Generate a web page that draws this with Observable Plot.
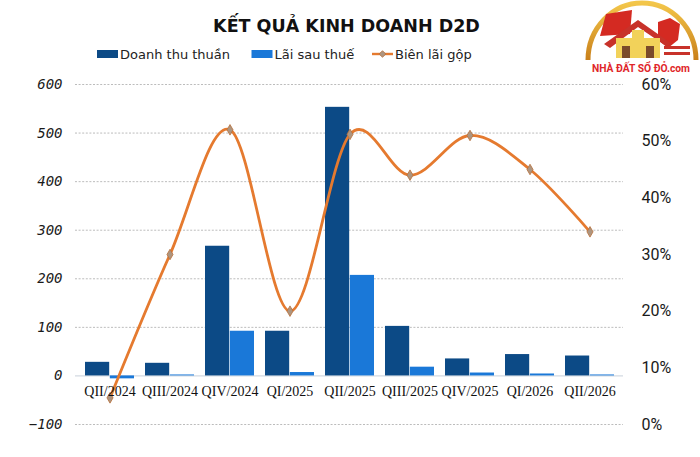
<!DOCTYPE html>
<html>
<head>
<meta charset="utf-8">
<script src="https://cdn.jsdelivr.net/npm/d3@7"></script>
<script src="https://cdn.jsdelivr.net/npm/@observablehq/plot@0.6"></script>
<style>
  body { margin: 0; background: #fff; }
  #wrap { position: relative; width: 700px; height: 457px; overflow: hidden; background: #fff; }
  #header { position: absolute; left: 0; top: 0; }
  #chart { position: absolute; left: 0; top: 68px; }
  #logo { position: absolute; left: 580px; top: 0; }
</style>
</head>
<body>
<div id="wrap">
  <div id="chart"></div>
  <svg id="header" width="700" height="68"></svg>
  <svg id="logo" width="120" height="80">
    <defs>
      <linearGradient id="gold" x1="0" x2="0" y1="0" y2="1">
        <stop offset="0" stop-color="#f3c64a"/>
        <stop offset="1" stop-color="#c9801a"/>
      </linearGradient>
    </defs>
    <path d="M8,60 A54,57 0 0 1 116,60" fill="none" stroke="url(#gold)" stroke-width="5"/>
    <path d="M20,36 L26,14 L52,10 L50,34 Z" fill="#d42a22"/>
    <path d="M78,22 L90,18 L100,24 L98,40 L88,48 L78,40 Z" fill="#d42a22"/>
    <path d="M24,44 L58,20 L92,44 L86,46 L58,27 L30,48 Z" fill="#c8322a"/>
    <rect x="36" y="38" width="44" height="20" fill="#f2d25a"/>
    <rect x="52" y="30" width="12" height="10" fill="#f2d25a"/>
    <rect x="42" y="46" width="8" height="12" fill="#7a4a2a"/>
    <rect x="66" y="46" width="8" height="12" fill="#7a4a2a"/>
    <rect x="84" y="46" width="26" height="3" fill="#c8322a"/>
    <rect x="84" y="52" width="26" height="3" fill="#c8322a"/>
    <text x="12" y="72" textLength="98" lengthAdjust="spacingAndGlyphs"
          font-family="Roboto" font-weight="bold" font-size="11" fill="#e0262a">NHÀ ĐẤT SỔ ĐỎ.com</text>
  </svg>
</div>
<script>
// ---- data ----
const quarters = ["QII/2024","QIII/2024","QIV/2024","QI/2025","QII/2025","QIII/2025","QIV/2025","QI/2026","QII/2026"];
const revenue = [28, 26, 267, 92, 553, 102, 35, 44, 41];      // Doanh thu thuần
const profit = [-6, 2, 92, 7, 207, 18, 6, 4, 2];              // Lãi sau thuế
const grossMargin = [4.7, 30, 52, 20, 51.2, 44, 51, 45, 34];  // Biên lãi gộp (%)
const leftTicks = [-100, 0, 100, 200, 300, 400, 500, 600];
const rightTicks = [0, 10, 20, 30, 40, 50, 60];
const seriesNames = ["Doanh thu thuần", "Lãi sau thuế", "Biên lãi gộp"];
const titleText = "KẾT QUẢ KINH DOANH D2D";
const colors = ["#0c4a86", "#1a78d8", "#e57a2f"];

// ---- scales mapping ----
const leftDomain = [-100, 600];
const rightDomain = [0, 60];
const toLeft = p => leftDomain[0] + (p - rightDomain[0]) * (leftDomain[1] - leftDomain[0]) / (rightDomain[1] - rightDomain[0]);
const fromLeft = v => rightDomain[0] + (v - leftDomain[0]) * (rightDomain[1] - rightDomain[0]) / (leftDomain[1] - leftDomain[0]);

const rows = quarters.map((q, i) => ({q, rev: revenue[i], prof: profit[i], gm: grossMargin[i]}));

const W = 700, H = 389, mL = 75, mR = 77, mT = 16, mB = 33;
const pIn = 0.185, pOut = pIn / 2;
const step = (W - mL - mR) / (quarters.length - pIn + 2 * pOut);
const bw = step * (1 - pIn);

const chart = Plot.plot({
  width: W, height: H,
  marginLeft: mL, marginRight: mR, marginTop: mT, marginBottom: mB,
  style: {background: "transparent", overflow: "visible"},
  x: {type: "band", domain: quarters, paddingInner: pIn, paddingOuter: pOut, axis: null},
  y: {domain: leftDomain, axis: null},
  marks: [
    Plot.gridY(leftTicks.filter(d => d !== 0), {stroke: "#b4b4b4", strokeOpacity: 1, strokeWidth: 0.9, strokeDasharray: "2,1.6"}),
    Plot.ruleY([0], {stroke: "#d3dae2", strokeWidth: 1.2}),
    Plot.barY(rows, {x: "q", y: "rev", fill: colors[0], insetRight: bw / 2}),
    Plot.barY(rows, {x: "q", y: "prof", fill: colors[1], insetLeft: bw / 2}),
    Plot.line(rows, {x: "q", y: d => toLeft(d.gm), curve: "cardinal", stroke: colors[2], strokeWidth: 2.8}),
    Plot.dot(rows, {x: "q", y: d => toLeft(d.gm), symbol: "diamond", r: 3.2, fill: "#ad9580", stroke: "#b86f38", strokeWidth: 0.8}),
    Plot.axisY(leftTicks, {anchor: "left", tickSize: 0, tickPadding: 13, label: null,
      fontFamily: "DejaVu Sans Mono", fontStyle: "italic", fontSize: 14, fill: "#1a1a1a"}),
    Plot.axisY(rightTicks.map(toLeft), {anchor: "right", tickSize: 0, tickPadding: 18, label: null,
      tickFormat: v => Math.round(fromLeft(v)) + "%",
      fontFamily: "Roboto", fontSize: 16, fill: "#1a1a1a"}),
    Plot.text(rows, {x: "q", y: () => 0, text: "q", dy: 16,
      fontFamily: "Liberation Serif", fontSize: 14, fill: "#111"})
  ]
});
document.getElementById("chart").appendChild(chart);

// ---- header: title + legend ----
const hdr = d3.select("#header");
hdr.append("text").attr("x", 346.5).attr("y", 32).attr("text-anchor", "middle")
  .attr("font-family", "DejaVu Sans").attr("font-weight", "bold").attr("font-size", 17.5)
  .attr("fill", "#111").text(titleText);

const legendX = [97, 251.5, 372];
const ly = 54;
const f = {family: "DejaVu Sans", size: 13};
seriesNames.forEach((name, i) => {
  const g = hdr.append("g").attr("transform", `translate(${legendX[i]},${ly})`);
  if (i < 2) {
    g.append("rect").attr("x", 0).attr("y", -4).attr("width", 21).attr("height", 8).attr("fill", colors[i]);
  } else {
    g.append("line").attr("x1", 0).attr("x2", 21).attr("y1", 0).attr("y2", 0)
      .attr("stroke", colors[2]).attr("stroke-width", 2.4);
    g.append("path").attr("d", d3.symbol(d3.symbolDiamond2, 28)()).attr("transform", "translate(10.5,0)")
      .attr("fill", "#ad9580").attr("stroke", "#b86f38").attr("stroke-width", 0.8);
  }
  g.append("text").attr("x", 23).attr("y", 5)
    .attr("font-family", f.family).attr("font-size", f.size).attr("fill", "#222").text(name);
});
</script>
</body>
</html>
